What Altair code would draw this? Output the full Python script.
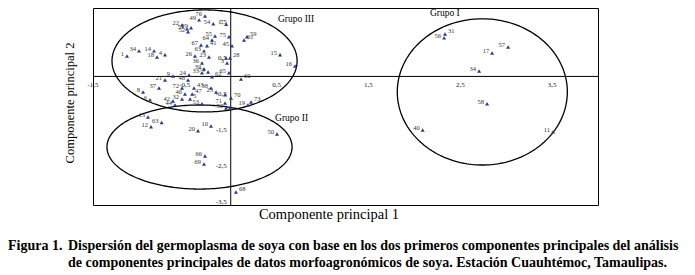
import altair as alt
import pandas as pd
import numpy as np

SERIF = "Liberation Serif"

# ---- data (PC1, PC2) ----
pt_labels = ["76", "49", "22", "54", "7", "51", "29", "52", "55", "64", "75", "59", "61",
             "67", "41", "45", "63", "26", "23", "", "28", "36", "3", "39", "33", "74",
             "65", "16", "15", "1", "34", "14", "18", "4", "9", "24", "21", "48", "62",
             "60", "37", "72", "43", "38", "25", "8", "46", "47", "6", "42", "32", "5",
             "44", "53", "", "70", "71", "50", "", "19", "73",
             "13", "63", "12", "20", "10", "50", "66", "69", "68",
             "31", "56", "57", "17", "34", "58", "40", "11"]
pc1 = [-0.28, -0.345, -0.53, -0.19, -0.05, -0.476, -0.432, -0.465, -0.171, -0.204, -0.019, 0.177, 0.145,
       -0.324, -0.258, 0.014, -0.291, -0.389, -0.237, -0.051, -0.008, -0.313, -0.04, -0.291, -0.313, -0.247,
       -0.019, 0.70, 0.537, -1.13, -0.999, -0.835, -0.803, -0.716, -0.629, -0.454, -0.716, -0.465, -0.204,
       0.112, -0.781, -0.53, -0.40, -0.215, -0.16, -0.955, -0.498, -0.42, -0.879, -0.629, -0.53, -0.443,
       -0.607, -0.313, -0.062, 0.003, -0.062, -0.051, -0.008, 0.188, 0.221,
       -0.901, -0.753, -0.868, -0.356, -0.215, 0.504, -0.28, -0.291, 0.057,
       2.334, 2.324, 3.021, 2.847, 2.705, 2.792, 2.09, 3.51]
pc2 = [1.68, 1.57, 1.43, 1.46, 1.45, 1.32, 1.35, 1.24, 1.125, 1.01, 1.10, 1.10, 1.01,
       0.875, 0.85, 0.85, 0.71, 0.57, 0.54, 0.51, 0.51, 0.375, 0.375, 0.21, 0.10, 0.125,
       0.10, 0.29, 0.60, 0.57, 0.71, 0.71, 0.54, 0.60, 0.01, 0.04, -0.10, -0.10, -0.01,
       -0.07, -0.32, -0.32, -0.32, -0.32, -0.43, -0.43, -0.49, -0.49, -0.65, -0.68, -0.625, -0.625,
       -0.79, -0.76, -0.51, -0.60, -0.74, -0.875, -0.875, -0.79, -0.71,
       -1.125, -1.28, -1.40, -1.51, -1.375, -1.60, -2.21, -2.43, -3.21,
       1.18, 1.07, 0.82, 0.65, 0.15, -0.76, -1.49, -1.54]
right_labeled = ["59", "61", "28", "70", "73", "31", "41", "47", "43", "62", "5", "60", "68"]

# group ellipses (centre and half-axes, in PC units)
grp_names = ["Grupo I", "Grupo II", "Grupo III"]
grp_cx = [2.74, -0.34, -0.285]
grp_cy = [-0.43, -1.96, 0.43]
grp_rx = [0.926, 1.008, 1.008]
grp_ry = [2.03, 1.167, 1.417]
# group label anchor (left/middle of the text)
grp_lx = [2.17, 0.483, 0.515]
grp_ly = [1.76, -1.15, 1.60]

x_ticks = [-1.5, -0.5, 0.5, 1.5, 2.5, 3.5]
y_ticks = [1.5, 0.5, -0.5, -1.5, -2.5, -3.5]

x_title = "Componente principal 1"
y_title = "Componente principal 2"
cap_fig = "Figura 1."
cap_l1 = "Dispersión del germoplasma de soya con base en los dos primeros componentes principales del análisis"
cap_l2 = "de componentes principales de datos morfoagronómicos de soya. Estación Cuauhtémoc, Tamaulipas."

# ---- tables ----
pts = pd.DataFrame({"lab": pt_labels, "pc1": pc1, "pc2": pc2})
pts["right"] = pts["lab"].isin(right_labeled)

rows = []
theta = np.linspace(0, 2 * np.pi, 241)
for g, cx, cy, rx, ry in zip(grp_names, grp_cx, grp_cy, grp_rx, grp_ry):
    for i, t in enumerate(theta):
        rows.append({"g": g, "o": i, "pc1": cx + rx * np.cos(t), "pc2": cy + ry * np.sin(t)})
ell = pd.DataFrame(rows)
glab = pd.DataFrame({"g": grp_names, "pc1": grp_lx, "pc2": grp_ly})
xt = pd.DataFrame({"v": x_ticks, "t": [f"{v:g}".replace(".", ",") for v in x_ticks], "z": 0.0})
yt = pd.DataFrame({"v": y_ticks, "t": [f"{v:g}".replace(".", ",") for v in y_ticks], "z": 0.0})
zero = pd.DataFrame({"z": [0.0]})

xs = alt.Scale(domain=[-1.5, 4.0], nice=False, zero=False)
ys = alt.Scale(domain=[-3.57, 1.90], nice=False, zero=False)


def X(f):
    return alt.X(f, type="quantitative", scale=xs, axis=None)


def Y(f):
    return alt.Y(f, type="quantitative", scale=ys, axis=None)


ellipses = alt.Chart(ell).mark_line(color="black", strokeWidth=1.3).encode(
    x=X("pc1"), y=Y("pc2"), detail="g:N", order="o:Q")
hline = alt.Chart(zero).mark_rule(color="black", strokeWidth=1).encode(y=Y("z"))
vline = alt.Chart(zero).mark_rule(color="black", strokeWidth=1).encode(x=X("z"))
xtl = alt.Chart(xt).mark_text(font=SERIF, fontSize=7, dy=9, color="#222").encode(
    x=X("v"), y=Y("z"), text="t:N")
ytl = alt.Chart(yt).mark_text(font=SERIF, fontSize=7, dx=-4, align="right", color="#222").encode(
    x=X("z"), y=Y("v"), text="t:N")
points = alt.Chart(pts).mark_point(shape="triangle-up", filled=True, size=16, opacity=1,
                                   color="#2B3A8A").encode(x=X("pc1"), y=Y("pc2"))
lab_l = alt.Chart(pts).transform_filter("!datum.right").mark_text(
    font=SERIF, fontSize=6.5, align="right", dx=-3, dy=-2, color="#333").encode(
    x=X("pc1"), y=Y("pc2"), text="lab:N")
lab_r = alt.Chart(pts).transform_filter("datum.right").mark_text(
    font=SERIF, fontSize=6.5, align="left", dx=3, dy=-3, color="#333").encode(
    x=X("pc1"), y=Y("pc2"), text="lab:N")
glabels = alt.Chart(glab).mark_text(font=SERIF, fontSize=9.5, align="left", color="black").encode(
    x=X("pc1"), y=Y("pc2"), text="g:N")

t_df = pd.DataFrame({"t": [x_title]})
xtitle = alt.Chart(t_df).mark_text(font=SERIF, fontSize=14.5, align="center", baseline="alphabetic").encode(
    text="t:N", x=alt.value(236), y=alt.value(211))
yt_df = pd.DataFrame({"t": [y_title]})
ytitle = alt.Chart(yt_df).mark_text(font=SERIF, fontSize=12.5, angle=270, align="center",
                                    baseline="middle").encode(
    text="t:N", x=alt.value(-23), y=alt.value(95))
cap1 = alt.Chart(pd.DataFrame({"t": [cap_fig]})).mark_text(
    font=SERIF, fontSize=14, fontWeight="bold", align="left", baseline="alphabetic").encode(
    text="t:N", x=alt.value(-85), y=alt.value(242))
cap2 = alt.Chart(pd.DataFrame({"t": [cap_l1]})).mark_text(
    font=SERIF, fontSize=14, fontWeight="bold", align="left", baseline="alphabetic").encode(
    text="t:N", x=alt.value(-25), y=alt.value(242))
cap3 = alt.Chart(pd.DataFrame({"t": [cap_l2]})).mark_text(
    font=SERIF, fontSize=14, fontWeight="bold", align="left", baseline="alphabetic").encode(
    text="t:N", x=alt.value(-25), y=alt.value(259))

chart = alt.layer(
    ellipses, hline, vline, xtl, ytl, points, lab_l, lab_r, glabels,
    xtitle, ytitle, cap1, cap2, cap3
).properties(
    width=505, height=197,
    autosize=alt.AutoSizeParams(type="none"),
    padding={"left": 85, "top": 0, "right": 89, "bottom": 70},
    background="white",
).configure_view(stroke="black", strokeWidth=1)

chart.save("out.html", embed_options={"renderer": "svg", "actions": False})
